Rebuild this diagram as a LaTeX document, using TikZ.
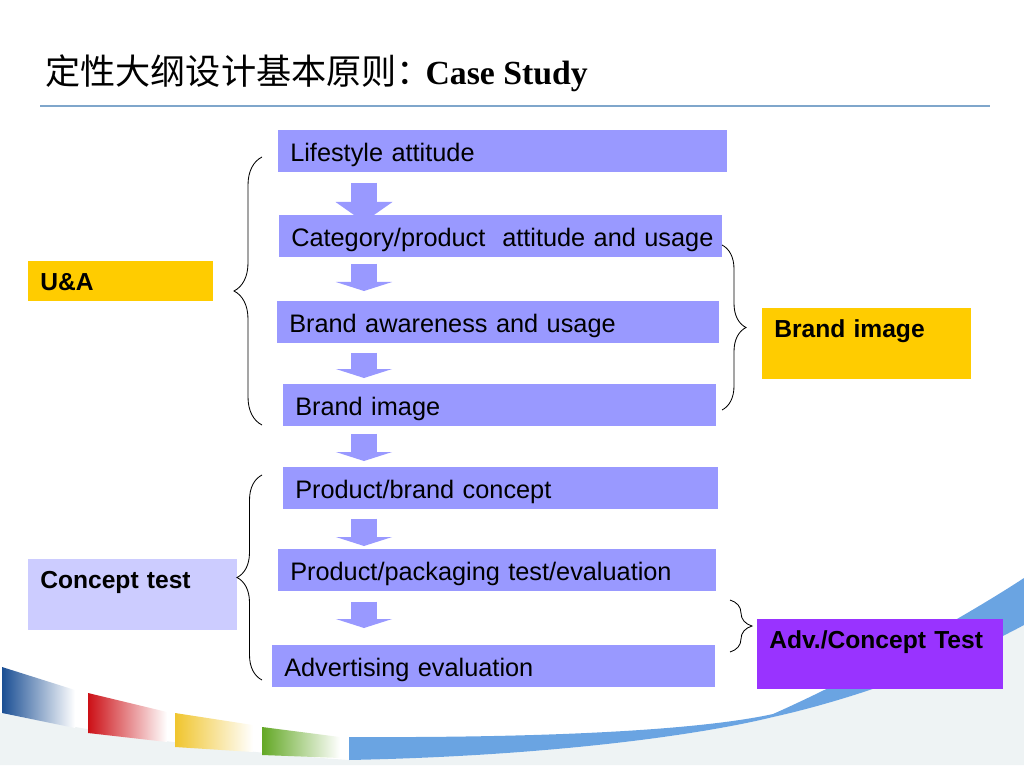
\documentclass[tikz,border=0pt]{standalone}
\usepackage{fontspec}
\setmainfont{Liberation Sans}
\newfontfamily\cjkfont{Noto Sans CJK SC}
\newfontfamily\titlefont{Liberation Serif}
\usetikzlibrary{arrows.meta,decorations.pathreplacing}
\newdimen\px \px=0.025cm
\definecolor{stepblue}{HTML}{9999FF}
\definecolor{tagyellow}{HTML}{FFCC00}
\definecolor{taglilac}{HTML}{CCCCFF}
\definecolor{tagpurple}{HTML}{9933FF}
\definecolor{rulecol}{HTML}{7FA6CB}
\definecolor{swooshblue}{HTML}{6AA4E2}
\definecolor{footgray}{HTML}{EEF3F4}
\definecolor{stripeblue}{HTML}{1B4F94}
\definecolor{stripered}{HTML}{CC1016}
\definecolor{stripeyellow}{HTML}{F0C52E}
\definecolor{stripegreen}{HTML}{63A825}
\tikzset{
  stepbox/.style={fill=stepblue, anchor=north west, inner xsep=12\px, inner ysep=0pt,
    text height=31\px, text depth=11\px, align=left, font=\fontsize{18}{20}\selectfont},
  tagbox/.style={anchor=north west, inner xsep=12\px, inner ysep=0pt, text height=29\px,
    align=left, font=\fontsize{17.5}{20}\selectfont\bfseries},
  flow/.style={stepblue, line width=0.65cm, -{Triangle[width=1.4cm,length=0.225cm]}},
  curly/.style={decorate, decoration={brace, amplitude=#1}, line width=0.6pt},
}
\begin{document}
\begin{tikzpicture}[x=0.025cm, y=-0.025cm]
  \useasboundingbox (0,0) rectangle (1024,768);
  \fill[footgray] (0,713) .. controls (110,735) and (230,752) .. (349,760) .. controls (550,756) and (700,735) .. (773,717) .. controls (850,700) and (950,665) .. (1024,625) -- (1024,765) -- (0,765) -- cycle;
  \fill[swooshblue] (349,737) .. controls (550,738) and (700,730) .. (773,714) .. controls (850,680) and (960,620) .. (1024,578) -- (1024,625) .. controls (950,665) and (850,700) .. (773,717) .. controls (700,735) and (550,756) .. (349,760) -- cycle;
  \shade[left color=stripeblue, middle color=stripeblue, right color=white] (2,667) -- (75,690) -- (75,728) -- (2,713) -- cycle;
  \shade[left color=stripered, middle color=stripered, right color=white] (88,693) -- (167,712) -- (167,742) -- (88,733) -- cycle;
  \shade[left color=stripeyellow, middle color=stripeyellow, right color=white] (175,713) -- (253,725) -- (253,752) -- (175,747) -- cycle;
  \shade[left color=stripegreen, middle color=stripegreen, right color=white] (262,727) -- (340,737) -- (340,758) -- (262,755) -- cycle;

  \node[anchor=base west, inner sep=0pt, font=\cjkfont\fontsize{25}{30}\selectfont] (title) at (45,85) {定性大纲设计基本原则：};
  \node[anchor=base west, inner sep=0pt, font=\titlefont\bfseries\fontsize{24}{30}\selectfont] (case) at ([xshift=-7\px]title.base east) {Case Study};
  \draw[rulecol, line width=2\px] (40,106) -- (990,106);

  \node[stepbox, text width=425\px] (life) at (278,130) {Lifestyle attitude};
  \node[stepbox, text width=419\px] (cat) at (279,215) {\mbox{Category/product\ \ attitude and usage}};
  \node[stepbox, text width=418\px] (aware) at (277,301) {Brand awareness and usage};
  \node[stepbox, text width=409\px] (image) at (283,384) {Brand image};
  \node[stepbox, text width=411\px] (concept) at (283,467) {Product/brand concept};
  \node[stepbox, text width=414\px] (pack) at (278,549) {Product/packaging test/evaluation};
  \node[stepbox, text width=419\px] (adv) at (272,645) {Advertising evaluation};
  \coordinate (col) at (364,0);

  \draw[flow, -{Triangle[width=1.4cm,length=0.5cm]}, shorten <=10\px, shorten >=-7\px] (life.south -| col) -- (cat.north -| col);
  \draw[flow, shorten <=6\px, shorten >=10\px] (cat.south -| col) -- (aware.north -| col);
  \draw[flow, shorten <=9\px, shorten >=6\px] (aware.south -| col) -- (image.north -| col);
  \draw[flow, shorten <=7\px, shorten >=6\px] (image.south -| col) -- (concept.north -| col);
  \draw[flow, shorten <=9\px, shorten >=3\px] (concept.south -| col) -- (pack.north -| col);
  \draw[flow, shorten <=10\px, shorten >=17\px] (pack.south -| col) -- (adv.north -| col);

  \node[tagbox, fill=tagyellow, text width=161\px, text depth=11\px] (ua) at (28,261) {U\&A};
  \node[tagbox, fill=taglilac, text width=185\px, text depth=42\px] (ctest) at (28,559) {Concept test};
  \node[tagbox, fill=tagyellow, text width=185\px, text depth=42\px] (bimage) at (762,308) {Brand image};
  \node[tagbox, fill=tagpurple, text width=222\px, text depth=41\px] (actest) at (757,619) {\mbox{Adv./Concept Test}};

  \draw[curly=28\px] (262,425) -- (262,157);
  \draw[curly=25\px] (262,680) -- (262,475);
  \draw[curly=24\px] (722,245) -- (722,410);
  \draw[curly=22\px] (730,600) -- (730,652);
\end{tikzpicture}
\end{document}
